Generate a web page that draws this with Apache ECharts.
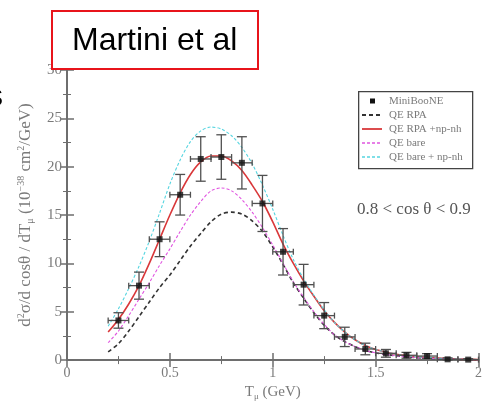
<!DOCTYPE html>
<html>
<head>
<meta charset="utf-8">
<script src="https://cdn.jsdelivr.net/npm/echarts@6/dist/echarts.min.js"></script>
<style>
  html, body { margin: 0; padding: 0; background: #fff; }
  #chart { width: 485px; height: 406px; }
</style>
</head>
<body>
<div id="chart"></div>
<script>
// MiniBooNE data points
const dataT = [0.25, 0.35, 0.45, 0.55, 0.65, 0.75, 0.85, 0.95, 1.05, 1.15, 1.25, 1.35, 1.45, 1.55, 1.65, 1.75, 1.85, 1.95]
const dataY = [4.1, 7.7, 12.5, 17.1, 20.8, 21.0, 20.4, 16.2, 11.2, 7.8, 4.6, 2.4, 1.15, 0.7, 0.5, 0.42, 0.08, 0.05]
const dataErr = [0.8, 1.4, 1.8, 2.1, 2.3, 2.3, 2.7, 2.9, 2.4, 2.1, 1.35, 1.0, 0.6, 0.4, 0.3, 0.25, 0.15, 0.1]
const binHalf = 0.05

// model curves
const curveT = [0.2, 0.25, 0.3, 0.35, 0.4, 0.45, 0.5, 0.55, 0.6, 0.65, 0.7, 0.75, 0.8, 0.85, 0.9, 0.95, 1.0, 1.05, 1.1, 1.15, 1.2, 1.25, 1.3, 1.35, 1.4, 1.45, 1.5, 1.6, 1.7, 1.8, 1.9, 2.0]
const qeRpa = [0.85, 1.7, 3.0, 4.5, 6.0, 7.5, 8.8, 10.3, 11.8, 13.1, 14.3, 15.1, 15.3, 15.1, 14.4, 13.3, 11.7, 9.9, 8.0, 6.4, 4.9, 3.6, 2.6, 1.9, 1.4, 1.0, 0.75, 0.45, 0.25, 0.15, 0.08, 0.04]
const qeRpaNp = [2.9, 4.2, 5.8, 7.7, 10.0, 12.5, 15.0, 17.3, 19.2, 20.5, 21.1, 21.1, 20.6, 19.6, 18.1, 16.4, 14.3, 12.0, 10.0, 8.2, 6.6, 5.1, 3.9, 2.9, 2.1, 1.5, 1.1, 0.6, 0.35, 0.2, 0.1, 0.05]
const qeBare = [1.8, 3.0, 4.6, 6.3, 8.0, 9.8, 11.5, 13.3, 15.0, 16.4, 17.5, 17.8, 17.5, 16.6, 15.3, 13.7, 11.9, 10.0, 8.1, 6.5, 5.0, 3.7, 2.6, 1.9, 1.4, 1.0, 0.75, 0.45, 0.25, 0.15, 0.08, 0.04]
const qeBareNp = [3.5, 5.3, 7.4, 9.7, 12.3, 15.2, 18.2, 20.7, 22.6, 23.7, 24.1, 23.9, 23.2, 22.0, 20.3, 18.1, 15.6, 12.9, 10.4, 8.4, 6.7, 5.2, 3.9, 2.9, 2.1, 1.5, 1.1, 0.6, 0.35, 0.2, 0.1, 0.05]

const xTicks = [0, 0.5, 1, 1.5, 2]
const legendNames = ['MiniBooNE', 'QE RPA', 'QE RPA +np-nh', 'QE bare', 'QE bare + np-nh']

const serif = '"Liberation Serif", "DejaVu Serif", serif'
const axisGray = '#6e6e6e'
const labelGray = '#7a7a7a'
const colors = {
  qeRpa: '#333333',
  qeRpaNp: '#d9383a',
  qeBare: '#e055e0',
  qeBareNp: '#55d5e0'
}

const pair = (xs, ys) => xs.map((x, i) => [x, ys[i]])

const chart = echarts.init(document.getElementById('chart'))

const axisCommon = {
  min: 0,
  axisLine: { show: true, lineStyle: { color: axisGray, width: 2 } },
  axisTick: { show: true, inside: true, length: 7, lineStyle: { color: axisGray, width: 1.5 } },
  minorTick: { show: true, splitNumber: 2, length: 4, lineStyle: { color: axisGray } },
  splitLine: { show: false }
}

const errorBars = {
  type: 'custom',
  name: 'errors',
  silent: true,
  z: 3,
  data: dataT.map((t, i) => [t, dataY[i], dataErr[i]]),
  renderItem (params, api) {
    const x = api.value(0)
    const y = api.value(1)
    const e = api.value(2)
    const top = api.coord([x, y + e])
    const bot = api.coord([x, Math.max(0, y - e)])
    const left = api.coord([x - binHalf, y])
    const right = api.coord([x + binHalf, y])
    const cap = 5
    const style = { stroke: '#505050', lineWidth: 1.3 }
    return {
      type: 'group',
      children: [
        { type: 'line', shape: { x1: top[0], y1: top[1], x2: bot[0], y2: bot[1] }, style },
        { type: 'line', shape: { x1: top[0] - cap, y1: top[1], x2: top[0] + cap, y2: top[1] }, style },
        { type: 'line', shape: { x1: bot[0] - cap, y1: bot[1], x2: bot[0] + cap, y2: bot[1] }, style },
        { type: 'line', shape: { x1: left[0], y1: left[1], x2: right[0], y2: right[1] }, style },
        { type: 'line', shape: { x1: left[0], y1: left[1] - 3, x2: left[0], y2: left[1] + 3 }, style },
        { type: 'line', shape: { x1: right[0], y1: right[1] - 3, x2: right[0], y2: right[1] + 3 }, style }
      ]
    }
  }
}

const lineSeries = (name, ys, color, width, type) => ({
  name,
  type: 'line',
  data: pair(curveT, ys),
  smooth: 0.3,
  symbol: 'none',
  z: 2,
  lineStyle: { color, width, type },
  itemStyle: { color }
})

// hand-drawn legend box (the paper's legend)
const legendX = 358
const legendY = 91
const rowH = 14
const legendStyles = [
  null,
  { stroke: colors.qeRpa, lineWidth: 1.8, lineDash: [4, 3] },
  { stroke: colors.qeRpaNp, lineWidth: 1.8 },
  { stroke: colors.qeBare, lineWidth: 1.3, lineDash: [3, 2] },
  { stroke: colors.qeBareNp, lineWidth: 1.3, lineDash: [3, 2] }
]
const legendGraphic = [
  {
    type: 'rect',
    left: legendX, top: legendY,
    shape: { width: 114, height: 77 },
    style: { fill: '#fff', stroke: '#444', lineWidth: 1.3 },
    z: 60
  }
]
legendNames.forEach((name, i) => {
  const cy = legendY + 10 + i * rowH
  if (i === 0) {
    legendGraphic.push({
      type: 'rect', z: 61,
      shape: { x: legendX + 12, y: cy - 2.5, width: 5, height: 5 },
      style: { fill: '#111' }
    })
  } else {
    legendGraphic.push({
      type: 'line', z: 61,
      shape: { x1: legendX + 4, y1: cy, x2: legendX + 24, y2: cy },
      style: legendStyles[i]
    })
  }
  legendGraphic.push({
    type: 'text', z: 61,
    x: legendX + 31, y: cy,
    style: { text: name, font: '11px ' + serif, fill: '#7a7a7a', verticalAlign: 'middle' }
  })
})

chart.setOption({
  animation: false,
  backgroundColor: '#fff',
  grid: { left: 67, right: 2, top: 70, bottom: 41 },
  xAxis: [
    {
      ...axisCommon,
      type: 'value',
      max: 2,
      interval: 0.5,
      position: 'bottom',
      name: '{t|T}{s|μ}{t| (GeV)}',
      nameLocation: 'middle',
      nameGap: 20,
      nameTextStyle: {
        rich: {
          t: { fontFamily: serif, fontSize: 15, color: labelGray },
          s: { fontFamily: serif, fontSize: 9, color: labelGray, padding: [8, 0, 0, 0] }
        }
      },
      axisLabel: {
        fontFamily: serif, fontSize: 14, color: labelGray, margin: 6,
        formatter: v => xTicks.includes(v) ? String(v) : ''
      }
    },
    {
      ...axisCommon,
      type: 'value',
      max: 2,
      interval: 0.5,
      position: 'top',
      axisLabel: { show: false }
    }
  ],
  yAxis: [
    {
      ...axisCommon,
      type: 'value',
      max: 30,
      interval: 5,
      position: 'left',
      name: '{t|d}{p|2}{t|σ/d cosθ / dT}{s|μ}{t| (10}{p|−38}{t| cm}{p|2}{t|/GeV)}',
      nameLocation: 'middle',
      nameGap: 32,
      nameRotate: 90,
      nameTextStyle: {
        rich: {
          t: { fontFamily: serif, fontSize: 17, color: labelGray },
          p: { fontFamily: serif, fontSize: 10, color: labelGray, padding: [0, 0, 9, 0] },
          s: { fontFamily: serif, fontSize: 10, color: labelGray, padding: [9, 0, 0, 0] }
        }
      },
      axisLabel: { fontFamily: serif, fontSize: 15, color: labelGray, margin: 5 }
    },
    {
      ...axisCommon,
      type: 'value',
      max: 30,
      interval: 5,
      position: 'right',
      axisLabel: { show: false }
    }
  ],
  graphic: [
    {
      type: 'rect',
      left: 51, top: 10,
      shape: { width: 206, height: 58 },
      style: { fill: '#fff', stroke: '#e8141b', lineWidth: 2 },
      z: 100
    },
    {
      type: 'text',
      left: 72, top: 25,
      style: { text: 'Martini et al', font: '32px "Liberation Sans", Arial, sans-serif', fill: '#000' },
      z: 101
    },
    {
      type: 'text',
      left: -13, top: 81,
      style: { text: 's', font: '32px "Liberation Sans", Arial, sans-serif', fill: '#000' },
      z: 101
    },
    {
      type: 'text',
      left: 357, top: 201,
      style: { text: '0.8 < cos θ < 0.9', font: '17px ' + serif, fill: '#555' },
      z: 50
    },
    ...legendGraphic
  ],
  series: [
    lineSeries('QE RPA', qeRpa, colors.qeRpa, 1.6, [4, 3]),
    lineSeries('QE RPA +np-nh', qeRpaNp, colors.qeRpaNp, 1.6, 'solid'),
    lineSeries('QE bare', qeBare, colors.qeBare, 1.1, [3, 2]),
    lineSeries('QE bare + np-nh', qeBareNp, colors.qeBareNp, 1.1, [3, 2]),
    errorBars,
    {
      name: 'MiniBooNE',
      type: 'scatter',
      data: pair(dataT, dataY),
      symbol: 'rect',
      symbolSize: 6,
      z: 4,
      itemStyle: { color: '#111' }
    }
  ]
})
</script>
</body>
</html>
